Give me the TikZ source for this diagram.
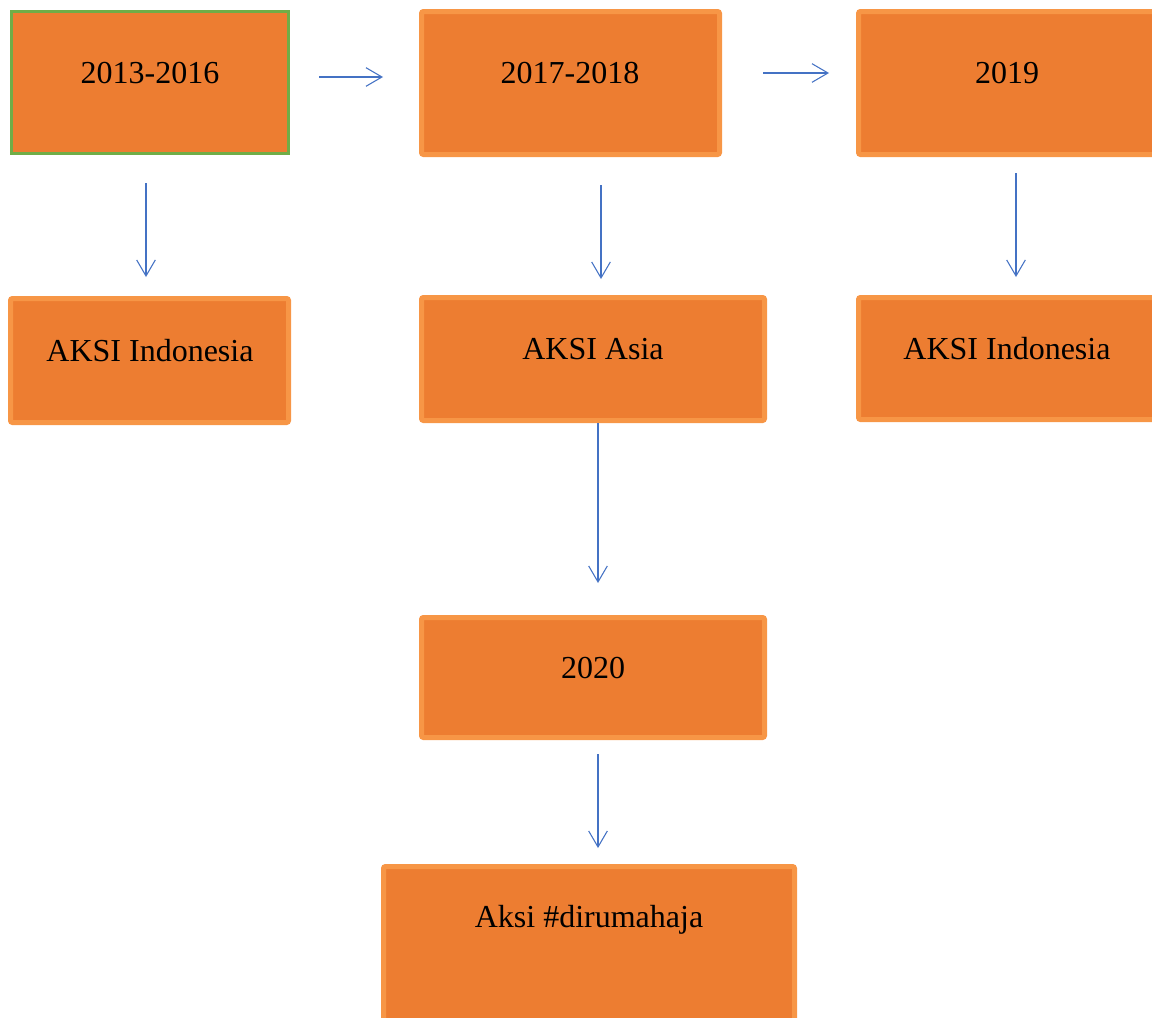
\documentclass[tikz,border=0pt]{standalone}
\usepackage{fontspec}
\setmainfont{Liberation Serif}
\usetikzlibrary{arrows.meta,calc}
\definecolor{boxfill}{HTML}{ED7D31}
\definecolor{boxline}{HTML}{F79646}
\definecolor{greenline}{HTML}{70AD47}
\definecolor{arrblue}{HTML}{4472C4}
\begin{document}
\begin{tikzpicture}[x=0.75pt,y=-0.75pt,
  box/.style={draw=boxline,fill=boxfill,line width=3.75pt,rounded corners=1.5pt,inner sep=0pt},
  lbl/.style={anchor=base,inner sep=0pt,font=\fontsize{24pt}{28pt}\selectfont},
  arr/.style={draw=arrblue,line width=0.8pt,-{Straight Barb[length=12pt,width=14pt,line width=0.8pt]}}]
\useasboundingbox (0,0) rectangle (1152,1017);
\clip (0,0) rectangle (1152,1017);
% boxes
\node[box,draw=greenline,line width=2.25pt,rounded corners=0pt,minimum width=207.75pt,minimum height=106.5pt] (b1) at (150,82.5) {};
\node[box,minimum width=223.5pt,minimum height=107.25pt] (b2) at (570.5,83) {};
\node[box,minimum width=226.1pt,minimum height=107.25pt] (b3) at (1009.25,83) {};
\node[box,minimum width=208.5pt,minimum height=93pt] (b4) at (149.5,360.5) {};
\node[box,minimum width=257.25pt,minimum height=92.25pt] (b5) at (593,359) {};
\node[box,minimum width=226.1pt,minimum height=91.5pt] (b6) at (1009.25,358.5) {};
\node[box,minimum width=257.25pt,minimum height=90pt] (b7) at (593,677.5) {};
\node[box,minimum width=308.25pt,minimum height=122.6pt] (b8) at (589,948.25) {};
% labels
\node[lbl] (t1) at (150,83.5) {2013-2016};
\node[lbl] (t2) at (570,83.5) {2017-2018};
\node[lbl] (t3) at (1007,83.5) {2019};
\node[lbl] (t4) at (150,361.5) {AKSI Indonesia};
\node[lbl] (t5) at (593,359.5) {AKSI Asia};
\node[lbl] (t6) at (1007,359.5) {AKSI Indonesia};
\node[lbl] (t7) at (593,678.5) {2020};
\node[lbl] (t8) at (589,927) {Aksi \#dirumahaja};
% arrows
\draw[arr] ($(b1.east)+(29,-5.5)$) -- ($(b2.west)+(-36,-6)$);
\draw[arr] ($(b2.east)+(41,-10)$) -- ($(b3.west)+(-27,-10)$);
\draw[arr] ($(b1.south)+(-4,28)$) -- ($(b4.north)+(-3.5,-19)$);
\draw[arr] ($(b2.south)+(30.5,28)$) -- ($(b5.north)+(8,-16)$);
\draw[arr] ($(b3.south)+(6.75,16)$) -- ($(b6.north)+(6.75,-18)$);
\draw[arr] ($(b5.south)+(5,0)$) -- ($(b7.north)+(5,-32)$);
\draw[arr] ($(b7.south)+(5,14)$) -- ($(b8.north)+(9,-16)$);
\end{tikzpicture}
\end{document}
